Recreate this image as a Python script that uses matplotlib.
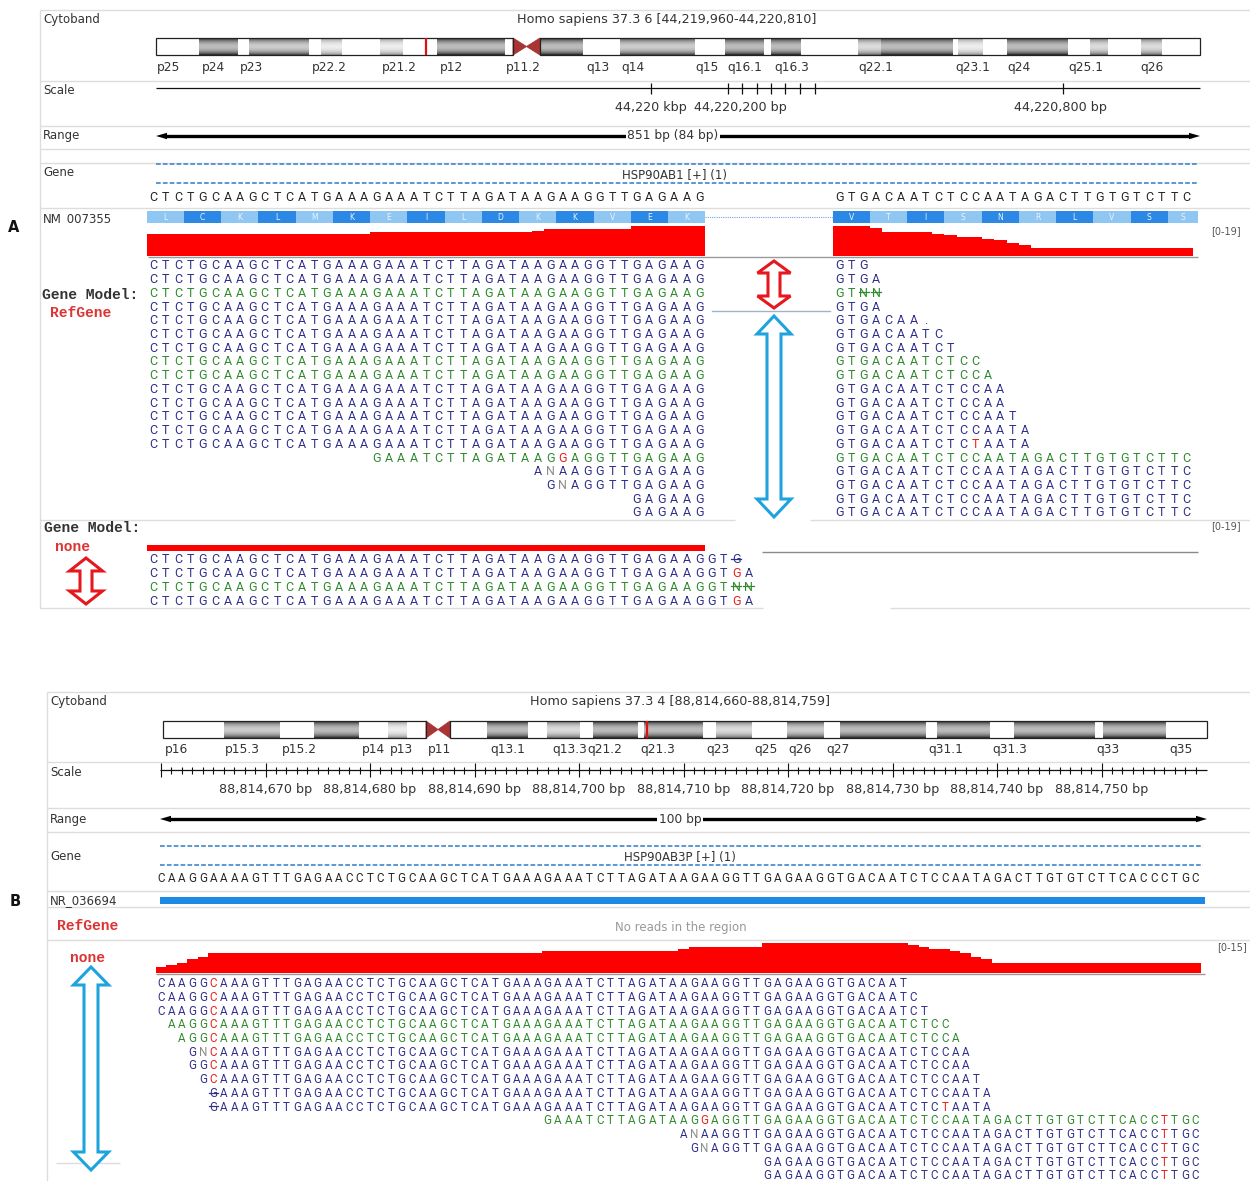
import numpy as np
import matplotlib
matplotlib.use("Agg")
import matplotlib.pyplot as plt
from matplotlib.patches import Rectangle, Polygon

# ------------------------------------------------------------------ data
# Panel A : chr6, HSP90AB1 exon/exon junction (intron collapsed)
A_TITLE = "Homo sapiens 37.3 6 [44,219,960-44,220,810]"
A_GENE_LABEL = "HSP90AB1 [+] (1)"
A_TRANSCRIPT = "NM_007355"
A_RANGE_LABEL = "851 bp (84 bp)"
A_EXON1 = "CTCTGCAAGCTCATGAAAGAAATCTTAGATAAGAAGGTTGAGAAG"
A_EXON2 = "GTGACAATCTCCAATAGACTTGTGTCTTC"
A_INTRON_DONOR = "GTAA"
A_AA_EXON1 = "LCKLMKEILDKKVEK"
A_AA_EXON2 = "VTISNRLVSS"
A_COV_MAX = 19

# ideogram of chromosome 6 (screen units along the ideogram)
A_BAND_EDGES = [156, 199, 238, 249, 309, 321, 342, 380, 403, 437, 505, 513, 540, 583,
                620, 695, 725, 764, 771, 801, 858, 881, 953, 958, 983, 1007, 1068,
                1090, 1108, 1141, 1162, 1200]
A_BAND_STAINS = ["gneg", "gpos100", "gneg", "gpos75", "gneg", "gpos25", "gneg", "gpos25",
                 "gneg", "gpos100", "gneg", "acen", "gpos100", "gneg", "gpos75", "gneg",
                 "gpos100", "gneg", "gpos100", "gneg", "gpos50", "gpos100", "gneg",
                 "gpos25", "gneg", "gpos100", "gneg", "gpos50", "gneg", "gpos50", "gneg"]
A_BAND_LABELS = ["p25", "p24", "p23", "p22.2", "p21.2", "p12", "p11.2", "q13", "q14",
                 "q15", "q16.1", "q16.3", "q22.1", "q23.1", "q24", "q25.1", "q26"]
A_BAND_LABEL_X = [157, 202, 240, 312, 382, 440, 506, 586, 621, 695, 727, 774, 858,
                  955, 1007, 1068, 1140]
A_MARKER_X = 426

A_SCALE_TICKS = [651, 728, 742, 757, 771, 785, 800, 815, 1063]
A_SCALE_LABELS = ["44,220 kbp", "44,220,200 bp", "44,220,800 bp"]
A_SCALE_LABEL_X = [651, 740, 1061]

# reads on the RefGene model: (exon1 start, exon1 bases, exon2 bases, colour, struck exon2 bases)
A_REFGENE_READS = [
    (0, "CTCTGCAAGCTCATGAAAGAAATCTTAGATAAGAAGGTTGAGAAG", "GTG", "b", []),
    (0, "CTCTGCAAGCTCATGAAAGAAATCTTAGATAAGAAGGTTGAGAAG", "GTGA", "b", []),
    (0, "CTCTGCAAGCTCATGAAAGAAATCTTAGATAAGAAGGTTGAGAAG", "GTNN", "g", [2, 3]),
    (0, "CTCTGCAAGCTCATGAAAGAAATCTTAGATAAGAAGGTTGAGAAG", "GTGA", "b", []),
    (0, "CTCTGCAAGCTCATGAAAGAAATCTTAGATAAGAAGGTTGAGAAG", "GTGACAA.", "b", []),
    (0, "CTCTGCAAGCTCATGAAAGAAATCTTAGATAAGAAGGTTGAGAAG", "GTGACAATC", "b", []),
    (0, "CTCTGCAAGCTCATGAAAGAAATCTTAGATAAGAAGGTTGAGAAG", "GTGACAATCT", "b", []),
    (0, "CTCTGCAAGCTCATGAAAGAAATCTTAGATAAGAAGGTTGAGAAG", "GTGACAATCTCC", "g", []),
    (0, "CTCTGCAAGCTCATGAAAGAAATCTTAGATAAGAAGGTTGAGAAG", "GTGACAATCTCCA", "g", []),
    (0, "CTCTGCAAGCTCATGAAAGAAATCTTAGATAAGAAGGTTGAGAAG", "GTGACAATCTCCAA", "b", []),
    (0, "CTCTGCAAGCTCATGAAAGAAATCTTAGATAAGAAGGTTGAGAAG", "GTGACAATCTCCAA", "b", []),
    (0, "CTCTGCAAGCTCATGAAAGAAATCTTAGATAAGAAGGTTGAGAAG", "GTGACAATCTCCAAT", "b", []),
    (0, "CTCTGCAAGCTCATGAAAGAAATCTTAGATAAGAAGGTTGAGAAG", "GTGACAATCTCCAATA", "b", []),
    (0, "CTCTGCAAGCTCATGAAAGAAATCTTAGATAAGAAGGTTGAGAAG", "GTGACAATCTCTAATA", "b", []),
    (18, "GAAATCTTAGATAAGGAGGTTGAGAAG", "GTGACAATCTCCAATAGACTTGTGTCTTC", "g", []),
    (31, "ANAAGGTTGAGAAG", "GTGACAATCTCCAATAGACTTGTGTCTTC", "b", []),
    (32, "GNAGGTTGAGAAG", "GTGACAATCTCCAATAGACTTGTGTCTTC", "b", []),
    (39, "GAGAAG", "GTGACAATCTCCAATAGACTTGTGTCTTC", "b", []),
    (39, "GAGAAG", "GTGACAATCTCCAATAGACTTGTGTCTTC", "b", []),
]
A_JUNCTION_ROW = 3

# reads with no gene model (run on into the intron): (start, bases, colour, struck bases)
A_NONE_READS = [
    (0, "CTCTGCAAGCTCATGAAAGAAATCTTAGATAAGAAGGTTGAGAAGGTG", "b", [47]),
    (0, "CTCTGCAAGCTCATGAAAGAAATCTTAGATAAGAAGGTTGAGAAGGTGA", "b", []),
    (0, "CTCTGCAAGCTCATGAAAGAAATCTTAGATAAGAAGGTTGAGAAGGTNN", "g", [47, 48]),
    (0, "CTCTGCAAGCTCATGAAAGAAATCTTAGATAAGAAGGTTGAGAAGGTGA", "b", []),
]

# Panel B : chr4, HSP90AB3P
B_TITLE = "Homo sapiens 37.3 4 [88,814,660-88,814,759]"
B_GENE_LABEL = "HSP90AB3P [+] (1)"
B_TRANSCRIPT = "NR_036694"
B_RANGE_LABEL = "100 bp"
B_REF = ("CAAGGAAAAGTTTGAGAACCTCTGCAAGCTCATGAAAGAAATCTTAGATAAGAAGGTTGAGAAGG"
         "TGACAATCTCCAATAGACTTGTGTCTTCACCCTGC")
B_START_BP = 88814660
B_COV_MAX = 15

B_BAND_EDGES = [163, 224, 280, 314, 359, 388, 407, 426, 450, 487, 528, 547, 580, 593,
                638, 644, 703, 716, 752, 787, 824, 840, 926, 937, 990, 1014, 1095,
                1103, 1166, 1207]
B_BAND_STAINS = ["gneg", "gpos75", "gneg", "gpos100", "gneg", "gpos25", "gneg", "acen",
                 "gneg", "gpos100", "gneg", "gpos50", "gneg", "gpos100", "gneg",
                 "gpos100", "gneg", "gpos50", "gneg", "gpos75", "gneg", "gpos100",
                 "gneg", "gpos100", "gneg", "gpos100", "gneg", "gpos100", "gneg"]
B_BAND_LABELS = ["p16", "p15.3", "p15.2", "p14", "p13", "p11", "q13.1", "q13.3", "q21.2",
                 "q21.3", "q23", "q25", "q26", "q27", "q31.1", "q31.3", "q33", "q35"]
B_BAND_LABEL_X = [165, 225, 282, 362, 390, 428, 490, 552, 587, 640, 706, 754, 788, 826,
                  928, 992, 1096, 1169]
B_MARKER_X = 647

# (start, bases, colour, struck bases)
B_READS = [
    (0, "CAAGGCAAAGTTTGAGAACCTCTGCAAGCTCATGAAAGAAATCTTAGATAAGAAGGTTGAGAAGGTGACAAT", "b", []),
    (0, "CAAGGCAAAGTTTGAGAACCTCTGCAAGCTCATGAAAGAAATCTTAGATAAGAAGGTTGAGAAGGTGACAATC", "b", []),
    (0, "CAAGGCAAAGTTTGAGAACCTCTGCAAGCTCATGAAAGAAATCTTAGATAAGAAGGTTGAGAAGGTGACAATCT", "b", []),
    (1, "AAGGCAAAGTTTGAGAACCTCTGCAAGCTCATGAAAGAAATCTTAGATAAGAAGGTTGAGAAGGTGACAATCTCC", "g", []),
    (2, "AGGCAAAGTTTGAGAACCTCTGCAAGCTCATGAAAGAAATCTTAGATAAGAAGGTTGAGAAGGTGACAATCTCCA", "g", []),
    (3, "GNCAAAGTTTGAGAACCTCTGCAAGCTCATGAAAGAAATCTTAGATAAGAAGGTTGAGAAGGTGACAATCTCCAA", "b", []),
    (3, "GGCAAAGTTTGAGAACCTCTGCAAGCTCATGAAAGAAATCTTAGATAAGAAGGTTGAGAAGGTGACAATCTCCAA", "b", []),
    (4, "GCAAAGTTTGAGAACCTCTGCAAGCTCATGAAAGAAATCTTAGATAAGAAGGTTGAGAAGGTGACAATCTCCAAT", "b", []),
    (5, "GAAAGTTTGAGAACCTCTGCAAGCTCATGAAAGAAATCTTAGATAAGAAGGTTGAGAAGGTGACAATCTCCAATA", "b", [0]),
    (5, "GAAAGTTTGAGAACCTCTGCAAGCTCATGAAAGAAATCTTAGATAAGAAGGTTGAGAAGGTGACAATCTCTAATA", "b", [0]),
    (37, "GAAATCTTAGATAAGGAGGTTGAGAAGGTGACAATCTCCAATAGACTTGTGTCTTCACCTTGC", "g", []),
    (50, "ANAAGGTTGAGAAGGTGACAATCTCCAATAGACTTGTGTCTTCACCTTGC", "b", []),
    (51, "GNAGGTTGAGAAGGTGACAATCTCCAATAGACTTGTGTCTTCACCTTGC", "b", []),
    (58, "GAGAAGGTGACAATCTCCAATAGACTTGTGTCTTCACCTTGC", "b", []),
    (58, "GAGAAGGTGACAATCTCCAATAGACTTGTGTCTTCACCTTGC", "b", []),
]

# ------------------------------------------------------------------ style
W, H = 1250, 1181
UI = "DejaVu Sans"
BASEF = "Roboto"
MONO = "Liberation Mono"
LBL = "#333333"
FRAME = "#dddddd"
READ_COL = {"b": "#30308c", "g": "#2f8a2f"}
MISM = "#e8231c"
NGREY = "#8c8c8c"
COVRED = "#ff0000"
ARROW_RED = "#e5181e"
ARROW_BLUE = "#1ea3dd"
GENE_BLUE = "#4a90d2"
STAIN = {"gpos100": (0.10, 0.74), "gpos75": (0.22, 0.80),
         "gpos50": (0.38, 0.86), "gpos25": (0.55, 0.93)}
NUM_SIZE = 9.2
BAND_SIZE = 8.8

fig = plt.figure(figsize=(W / 100, H / 100), dpi=100)
ax = fig.add_axes([0, 0, 1, 1])
ax.set_xlim(0, W)
ax.set_ylim(H, 0)
ax.axis("off")


def hline(y, x0, x1, color=FRAME, lw=1.0, z=1):
    ax.plot([x0, x1], [y, y], color=color, lw=lw, solid_capstyle="butt", zorder=z)


def vline(x, y0, y1, color=FRAME, lw=1.0, z=1):
    ax.plot([x, x], [y0, y1], color=color, lw=lw, solid_capstyle="butt", zorder=z)


def label(x, y, s, size=8.5, color=LBL, ha="left", **kw):
    ax.text(x, y, s, ha=ha, va="center", fontsize=size, color=color, family=UI, **kw)


def ideogram(edges, stains, y0, y1, marker_x):
    ymid = (y0 + y1) / 2.0
    t = np.linspace(0, 1, 64)
    cen = None
    for xa, xb, st in zip(edges[:-1], edges[1:], stains):
        if st == "acen":
            cen = (xa, xb)
            xm = (xa + xb) / 2.0
            ax.add_patch(Polygon([(xa, y0), (xa, y1), (xm, ymid)], closed=True,
                                 fc="#a83434", ec="#a83434", lw=0.6, zorder=3))
            ax.add_patch(Polygon([(xb, y0), (xb, y1), (xm, ymid)], closed=True,
                                 fc="#a83434", ec="#a83434", lw=0.6, zorder=3))
        elif st != "gneg":
            edge, mid = STAIN[st]
            prof = edge + (mid - edge) * np.sin(np.pi * t) ** 0.7
            ax.imshow(prof[:, None], cmap="gray", vmin=0, vmax=1, aspect="auto",
                      extent=(xa, xb, y1, y0), interpolation="bilinear", zorder=2)
    x0, x1 = edges[0], edges[-1]
    for a, b in ((x0, cen[0]), (cen[1], x1)):
        ax.add_patch(Rectangle((a, y0), b - a, y1 - y0, fc="none", ec="#222222",
                               lw=0.9, zorder=4))
    vline(marker_x, y0, y1, color="#e01010", lw=1.6, z=5)


def range_arrow(x0, x1, y, text, cx):
    ax.plot([x0 + 8, x1 - 8], [y, y], color="black", lw=2.4, solid_capstyle="butt", zorder=3)
    ax.add_patch(Polygon([(x0, y), (x0 + 11, y - 3.2), (x0 + 11, y + 3.2)], fc="black",
                         ec="none", zorder=3))
    ax.add_patch(Polygon([(x1, y), (x1 - 11, y - 3.2), (x1 - 11, y + 3.2)], fc="black",
                         ec="none", zorder=3))
    ax.text(cx, y, text, ha="center", va="center", fontsize=8.8, color=LBL, family=UI,
            zorder=4, bbox=dict(fc="white", ec="none", pad=1.0))


def gene_lines(x0, x1, ya, yb):
    for y in (ya, yb):
        ax.plot([x0, x1], [y, y], color=GENE_BLUE, lw=1.3, ls=(0, (2.6, 1.2)), zorder=3)


def hollow_double_arrow(cx, y0, y1, head_w, shaft_w, head_len, color, lw=2.2):
    hw, sw = head_w / 2.0, shaft_w / 2.0
    pts = [(cx, y0), (cx + hw, y0 + head_len), (cx + sw, y0 + head_len),
           (cx + sw, y1 - head_len), (cx + hw, y1 - head_len), (cx, y1),
           (cx - hw, y1 - head_len), (cx - sw, y1 - head_len), (cx - sw, y0 + head_len),
           (cx - hw, y0 + head_len)]
    ax.add_patch(Polygon(pts, closed=True, fc="white", ec=color, lw=lw,
                         joinstyle="miter", zorder=6))


def bases(xfun, start, seq, ref, colour, struck, y, size, pitch):
    cap = 0.711 * size * 100 / 72.0
    for k, ch in enumerate(seq):
        pos = start + k
        x = xfun(pos)
        c = colour
        if k in struck:
            ax.plot([x - pitch * 0.42, x + pitch * 0.42], [y, y], color=colour, lw=0.9,
                    zorder=4)
        elif ch == "N":
            c = NGREY
        elif ch in "ACGT" and pos < len(ref) and ref[pos] != ch:
            c = MISM
        ax.text(x, y + cap / 2.0, ch, ha="center", va="baseline", fontsize=size,
                color=c, family=BASEF, zorder=3)


def coverage(spans, n):
    cov = np.zeros(n)
    for s, length in spans:
        cov[max(s, 0):min(n, s + length)] += 1
    return cov


def draw_coverage(cov, xfun, pitch, base_y, height, cmax):
    n = len(cov)
    xe = xfun(0) - pitch / 2.0 + pitch * np.arange(n + 1)
    top = base_y - np.append(cov, cov[-1]) / cmax * height
    ax.fill_between(xe, base_y, top, step="post", color=COVRED, lw=0, zorder=2)


# ------------------------------------------------------------------ panel A
A_P = 12.41
ax1 = lambda i: 153 + A_P * np.asarray(i)
ax2 = lambda j: 839 + A_P * np.asarray(j)
arow = lambda r: 265 + 13.72 * r
anrow = lambda r: 559 + 13.72 * r

# frame
hline(10, 40, 1250)
vline(40, 10, 608)
for y in (81, 126, 149, 163, 208):
    hline(y, 40, 1250)
hline(520, 40, 735)
hline(520, 810, 1250)
hline(608, 40, 763)
hline(608, 890, 1250)

label(43, 19, "Cytoband")
label(667, 19, A_TITLE, size=NUM_SIZE, ha="center")
ideogram(A_BAND_EDGES, A_BAND_STAINS, 38, 55, A_MARKER_X)
for s, x in zip(A_BAND_LABELS, A_BAND_LABEL_X):
    label(x, 68, s, size=BAND_SIZE)

label(43, 90, "Scale")
hline(88, 156, 1200, color="#111111", lw=0.9, z=3)
for x in A_SCALE_TICKS:
    vline(x, 83, 94, color="#111111", lw=0.9, z=3)
for s, x in zip(A_SCALE_LABELS, A_SCALE_LABEL_X):
    label(x, 107, s, size=NUM_SIZE, ha="center")

label(43, 136, "Range")
range_arrow(156, 1200, 136, A_RANGE_LABEL, 673)

label(43, 173, "Gene")
gene_lines(156, 1198, 164, 183)
label(674, 175, A_GENE_LABEL, ha="center", zorder=4)
bases(ax1, 0, A_EXON1, A_EXON1, "#262626", [], 197, 9.0, A_P)
bases(ax2, 0, A_EXON2, A_EXON2, "#262626", [], 197, 9.0, A_P)

# transcript with codon blocks
label(43, 219, A_TRANSCRIPT)
ax.add_patch(Rectangle((41, 224.5), 100, 4, fc="white", ec="none", zorder=5))
for xfun, aa, off in ((ax1, A_AA_EXON1, 0), (ax2, A_AA_EXON2, len(A_AA_EXON1))):
    for c, a in enumerate(aa):
        xa = float(xfun(3 * c)) - A_P / 2.0
        xb = min(float(xfun(3 * c + 2)) + A_P / 2.0, 1198)
        col = "#8fc6f2" if (c + off) % 2 == 0 else "#2b88e4"
        ax.add_patch(Rectangle((xa, 211), xb - xa, 12, fc=col, ec="none", zorder=2))
        ax.text((xa + xb) / 2.0, 217, a, ha="center", va="center", fontsize=5.5,
                color="#eaf4ff", family=UI, zorder=3)
ax.plot([float(ax1(44)) + A_P / 2, float(ax2(0)) - A_P / 2], [217, 217], color="#6aa6e6",
        lw=0.8, ls=(0, (1, 1)), zorder=2)
ax.text(14, 228, "A", ha="center", va="center", fontsize=10.5, fontweight="bold",
        family=UI, color="#111111")

# coverage of the RefGene-model reads
cov1 = coverage([(r[0], len(r[1])) for r in A_REFGENE_READS], len(A_EXON1))
cov2 = coverage([(0, len(r[2])) for r in A_REFGENE_READS], len(A_EXON2))
hline(257, 148, 1198, color="#9a9a9a", lw=1.0, z=1)
draw_coverage(cov1, ax1, A_P, 256, 30, A_COV_MAX)
draw_coverage(cov2, ax2, A_P, 256, 30, A_COV_MAX)
ax.text(1226, 231, "[0-%d]" % A_COV_MAX, ha="center", va="center", fontsize=7,
        color="#555555", family=UI)

ax.text(42, 295, "Gene Model:", ha="left", va="center", fontsize=10.5, fontweight="bold",
        family=MONO, color="#333333")
ax.text(50, 313, "RefGene", ha="left", va="center", fontsize=10.5, fontweight="bold",
        family=MONO, color="#dd3333")

for r, (s1, e1, e2, col, st2) in enumerate(A_REFGENE_READS):
    y = arow(r)
    bases(ax1, s1, e1, A_EXON1, READ_COL[col], [], y, 9.0, A_P)
    bases(ax2, 0, e2, A_EXON2, READ_COL[col], st2, y, 9.0, A_P)
ax.plot([712, 830], [arow(A_JUNCTION_ROW) + 5, arow(A_JUNCTION_ROW) + 5],
        color="#9fb4cc", lw=1.0, zorder=2)

hollow_double_arrow(774, 261, 308, 33, 12, 12, ARROW_RED)
hollow_double_arrow(774, 316, 517, 34, 14, 18, ARROW_BLUE)

# reads without a gene model
ax.text(44, 528, "Gene Model:", ha="left", va="center", fontsize=10.5, fontweight="bold",
        family=MONO, color="#333333")
ax.text(55, 547, "none", ha="left", va="center", fontsize=10.5, fontweight="bold",
        family=MONO, color="#dd3333")
ax.text(1226, 526, "[0-%d]" % A_COV_MAX, ha="center", va="center", fontsize=7,
        color="#555555", family=UI)
hline(551.5, 762, 1198, color="#8a8a8a", lw=1.0)
covn = coverage([(r[0], len(r[1])) for r in A_NONE_READS], len(A_EXON1))
draw_coverage(covn, ax1, A_P, 551, 30, A_COV_MAX)
A_NONE_REF = A_EXON1 + A_INTRON_DONOR
for r, (s, seq, col, st) in enumerate(A_NONE_READS):
    bases(ax1, s, seq, A_NONE_REF, READ_COL[col], st, anrow(r), 9.0, A_P)
hollow_double_arrow(86, 558, 604, 33, 12, 13, ARROW_RED)

# ------------------------------------------------------------------ panel B
B_P = 10.45
bx = lambda i: 161 + B_P * np.asarray(i)
brow = lambda r: 983 + 13.72 * r

hline(692, 47, 1250)
vline(47, 692, 1181)
for y in (762, 808, 832, 891, 907, 940):
    hline(y, 47, 1250)
hline(1163, 56, 120)

label(50, 702, "Cytoband")
label(680, 702, B_TITLE, size=NUM_SIZE, ha="center")
ideogram(B_BAND_EDGES, B_BAND_STAINS, 721, 738, B_MARKER_X)
for s, x in zip(B_BAND_LABELS, B_BAND_LABEL_X):
    label(x, 750, s, size=BAND_SIZE)

label(50, 773, "Scale")
hline(770, 160, 1207, color="#111111", lw=0.9, z=3)
for k in range(len(B_REF)):
    h = 7 if k % 10 == 0 else 3.5
    vline(float(bx(k)), 770 - h, 770 + h, color="#111111", lw=0.8, z=3)
for k in range(10, len(B_REF), 10):
    label(float(bx(k)), 789, "{:,} bp".format(B_START_BP + k), size=NUM_SIZE, ha="center")

label(50, 819, "Range")
range_arrow(160, 1207, 819, B_RANGE_LABEL, 680)

label(50, 856, "Gene")
gene_lines(160, 1203, 846, 865)
label(680, 858, B_GENE_LABEL, ha="center", zorder=4)
bases(bx, 0, B_REF, B_REF, "#262626", [], 878, 8.4, B_P)

label(50, 901, B_TRANSCRIPT)
ax.add_patch(Rectangle((160, 897), 1045, 7, fc="#1e88e5", ec="none", zorder=2))
ax.text(15, 901, "B", ha="center", va="center", fontsize=10.5, fontweight="bold",
        family=UI, color="#111111")

ax.text(57, 926, "RefGene", ha="left", va="center", fontsize=10.5, fontweight="bold",
        family=MONO, color="#dd3333")
label(681, 927, "No reads in the region", color="#999999", ha="center")

ax.text(70, 958, "none", ha="left", va="center", fontsize=10.5, fontweight="bold",
        family=MONO, color="#dd3333")
covb = coverage([(r[0], len(r[1])) for r in B_READS], len(B_REF))
hline(973.5, 156, 1205, color="#9a9a9a", lw=1.0)
draw_coverage(covb, bx, B_P, 973, 30, B_COV_MAX)
ax.text(1232, 947, "[0-%d]" % B_COV_MAX, ha="center", va="center", fontsize=7,
        color="#555555", family=UI)
for r, (s, seq, col, st) in enumerate(B_READS):
    bases(bx, s, seq, B_REF, READ_COL[col], st, brow(r), 8.4, B_P)
hollow_double_arrow(91, 967, 1170, 35, 14, 18, ARROW_BLUE)

ax.set_xlim(0, W)
ax.set_ylim(H, 0)
fig.savefig("out.png", dpi=100, facecolor="white")
